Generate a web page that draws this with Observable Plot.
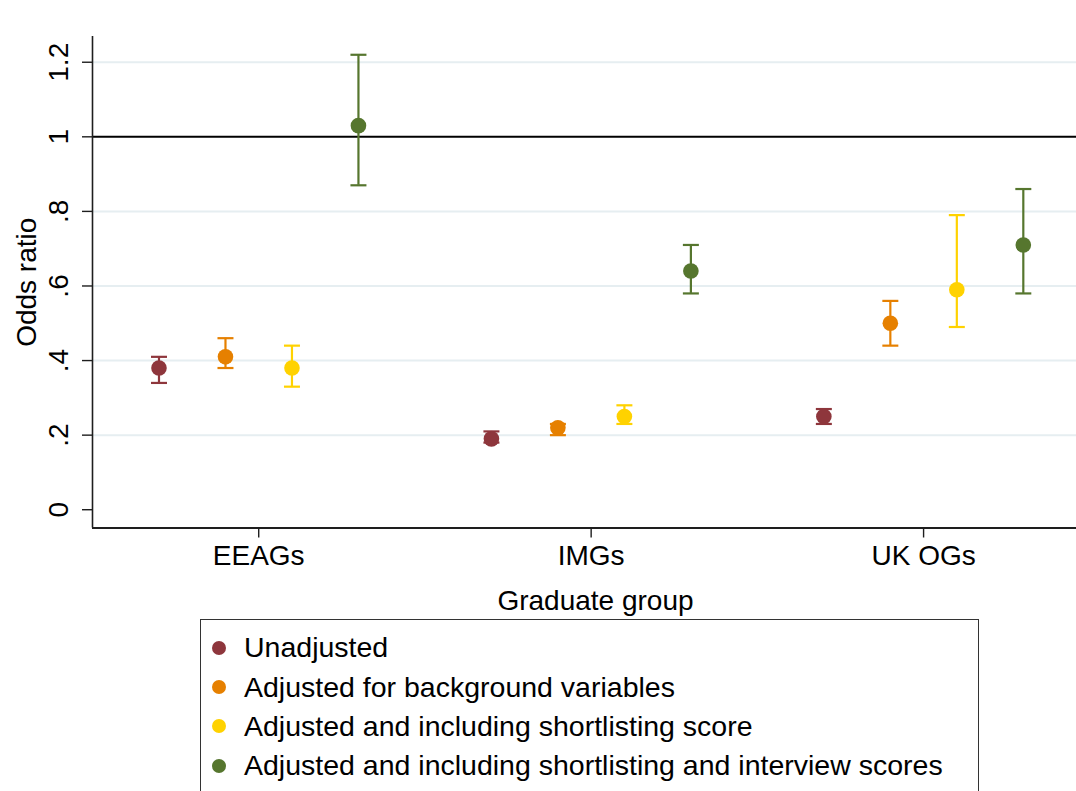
<!DOCTYPE html>
<html><head><meta charset="utf-8">
<script src="https://cdn.jsdelivr.net/npm/d3@7"></script>
<script src="https://cdn.jsdelivr.net/npm/@observablehq/plot@0.6"></script>
<style>
html,body{margin:0;padding:0;background:#fff;}
body{width:1076px;height:791px;overflow:hidden;position:relative;font-family:"Liberation Sans",Arial,Helvetica,sans-serif;}
#legend{position:absolute;left:200px;top:619px;width:779px;height:220px;border:1.6px solid #333;box-sizing:border-box;padding-top:8px;background:#fff;}
.row{display:flex;align-items:center;height:39.4px;font-size:28.5px;color:#000;white-space:nowrap;}
.sw{width:14px;height:14px;border-radius:50%;margin-left:11px;margin-right:18px;flex:none;}
</style></head><body>
<div id="chart"></div><div id="legend"></div>
<script>
// ---- data ----
const groups = ["EEAGs", "IMGs", "UK OGs"];
const models = [
  "Unadjusted",
  "Adjusted for background variables",
  "Adjusted and including shortlisting score",
  "Adjusted and including shortlisting and interview scores"
];
const colors = ["#8e363c", "#e68000", "#ffd200", "#56762e"];
// odds ratios per model, in group order
const unadjustedOR = [0.38, 0.19, 0.25];
const unadjustedLo = [0.34, 0.18, 0.23];
const unadjustedHi = [0.41, 0.21, 0.27];
const backgroundOR = [0.41, 0.22, 0.50];
const backgroundLo = [0.38, 0.20, 0.44];
const backgroundHi = [0.46, 0.23, 0.56];
const shortlistOR = [0.38, 0.25, 0.59];
const shortlistLo = [0.33, 0.23, 0.49];
const shortlistHi = [0.44, 0.28, 0.79];
const interviewOR = [1.03, 0.64, 0.71];
const interviewLo = [0.87, 0.58, 0.58];
const interviewHi = [1.22, 0.71, 0.86];
const yTicks = [0, 0.2, 0.4, 0.6, 0.8, 1, 1.2];
const yTickLabels = ["0", ".2", ".4", ".6", ".8", "1", "1.2"];
const gridTicks = [0.2, 0.4, 0.6, 0.8, 1.2];
const refLine = [1];

// ---- table ----
const series = [
  [unadjustedOR, unadjustedLo, unadjustedHi],
  [backgroundOR, backgroundLo, backgroundHi],
  [shortlistOR, shortlistLo, shortlistHi],
  [interviewOR, interviewLo, interviewHi]
];
const dodge = 0.2;
const rows = [];
groups.forEach((g, i) => {
  models.forEach((m, j) => {
    rows.push({group: g, model: m, pos: i + 1 + (j - 1.5) * dodge,
      or: series[j][0][i], lo: series[j][1][i], hi: series[j][2][i]});
  });
});

const capSymbol = {
  draw(context, size) {
    const w = Math.sqrt(size / Math.PI);
    context.moveTo(-w, 0);
    context.lineTo(w, 0);
  }
};

const W = 1076, H = 615;
const xDomain = [0.5, 3.46];
const yDomain = [-0.049, 1.269];
const axisColor = "#1e1e1e";
const font = 28;

const chart = Plot.plot({
  width: W, height: H,
  marginLeft: 92, marginRight: 0, marginTop: 36, marginBottom: H - 527.5,
  x: {domain: xDomain},
  y: {domain: yDomain},
  color: {domain: models, range: colors},
  style: {fontFamily: '"Liberation Sans", Arial, Helvetica, sans-serif', fontSize: "28px", background: "#fff", overflow: "visible", color: "#000"},
  marks: [
    Plot.ruleY(gridTicks, {stroke: "#e6eef1", strokeWidth: 2}),
    Plot.ruleY(refLine, {stroke: "#000", strokeWidth: 2}),
    Plot.ruleX([xDomain[0]], {stroke: axisColor, strokeWidth: 1.6}),
    Plot.ruleY([yDomain[0]], {stroke: axisColor, strokeWidth: 1.8}),
    Plot.axisY({ticks: yTicks, tickSize: 10, tickFormat: () => "", label: null, stroke: axisColor, strokeWidth: 1.4}),
    Plot.axisX({ticks: [1, 2, 3], tickSize: 10, tickFormat: () => "", label: null, stroke: axisColor, strokeWidth: 1.4}),
    Plot.text(yTicks, {y: d => d, text: (d, i) => yTickLabels[i], frameAnchor: "left", dx: -25, rotate: -90, textAnchor: "middle", lineAnchor: "bottom", fontSize: font, fill: "#000"}),
    Plot.text(groups, {x: (d, i) => i + 1, text: d => d, frameAnchor: "bottom", dy: 37, lineAnchor: "bottom", fontSize: font, fill: "#000"}),
    Plot.text(["Graduate group"], {text: d => d, frameAnchor: "bottom", dx: 11, dy: 82, lineAnchor: "bottom", fontSize: font, fill: "#000"}),
    Plot.text(["Odds ratio"], {text: d => d, frameAnchor: "left", dx: -57, rotate: -90, textAnchor: "middle", lineAnchor: "bottom", fontSize: font, fill: "#000"}),
    Plot.ruleX(rows, {x: "pos", y1: "lo", y2: "hi", stroke: "model", strokeWidth: 2.2}),
    Plot.dot(rows, {x: "pos", y: "lo", symbol: capSymbol, r: 8, stroke: "model", strokeWidth: 2.2, fill: "none"}),
    Plot.dot(rows, {x: "pos", y: "hi", symbol: capSymbol, r: 8, stroke: "model", strokeWidth: 2.2, fill: "none"}),
    Plot.dot(rows, {x: "pos", y: "or", r: 7.8, fill: "model", stroke: "none"})
  ]
});
document.getElementById("chart").appendChild(chart);

const legend = document.getElementById("legend");
models.forEach((m, j) => {
  const row = document.createElement("div");
  row.className = "row";
  const sw = document.createElement("span");
  sw.className = "sw";
  sw.style.background = colors[j];
  const tx = document.createElement("span");
  tx.textContent = m;
  row.appendChild(sw);
  row.appendChild(tx);
  legend.appendChild(row);
});
</script>
</body></html>
